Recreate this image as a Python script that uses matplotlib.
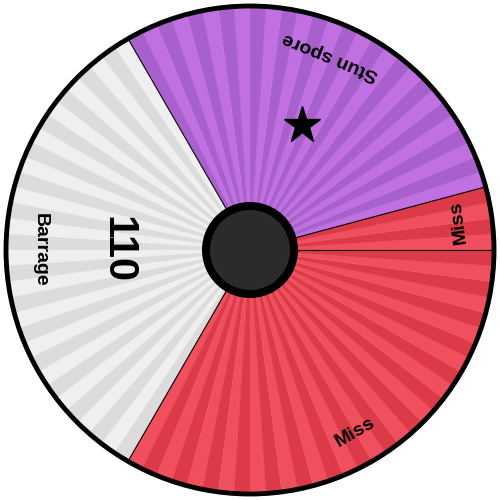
import numpy as np
import matplotlib
matplotlib.use("Agg")
import matplotlib.pyplot as plt
from matplotlib.patches import Wedge, Circle

# Wheel segments, counter-clockwise from 3 o'clock (96 units = full wheel)
labels = ["Miss", "Stun spore", "Barrage", "Miss"]
sizes = [4, 28, 32, 32]
light_colors = ["#f0505e", "#c070e0", "#efefef", "#f0505e"]
dark_colors = ["#dc3a48", "#a860cc", "#dcdcdc", "#dc3a48"]
powers = ["", "", "110", ""]
status = [False, True, False, False]

plt.rcParams["font.family"] = ["Liberation Sans", "DejaVu Sans"]

fig = plt.figure(figsize=(5, 5), dpi=100)
ax = fig.add_axes([0, 0, 1, 1])
ax.set_xlim(-250, 250)
ax.set_ylim(-250, 250)
ax.set_aspect("equal")
ax.axis("off")

R = 244
step = 360 / sum(sizes)
start = 0.0
k = 0
for lab, n, lc, dc, pw, st in zip(labels, sizes, light_colors, dark_colors, powers, status):
    # stripes
    for i in range(n):
        a0 = start + i * step
        col = lc if k % 2 == 0 else dc
        ax.add_patch(Wedge((0, 0), R, a0, a0 + step, facecolor=col, edgecolor=col, lw=0.3))
        k += 1
    mid = start + n * step / 2
    t = np.radians(mid)
    # label
    ax.text(210 * np.cos(t), 210 * np.sin(t), lab, rotation=mid + 90, rotation_mode="anchor",
            ha="center", va="center", fontsize=14, fontweight="bold")
    if pw:
        ax.text(133 * np.cos(t), 133 * np.sin(t), pw, rotation=mid + 90, rotation_mode="anchor",
                ha="center", va="center", fontsize=30, fontweight="bold")
    if st:
        ax.plot(135 * np.cos(t), 135 * np.sin(t), marker="*", color="black", ms=28, mec="black")
    start += n * step

# segment borders
start = 0.0
for n in sizes:
    t = np.radians(start)
    ax.plot([0, R * np.cos(t)], [0, R * np.sin(t)], color="black", lw=0.8)
    start += n * step

ax.add_patch(Circle((0, 0), R, facecolor="none", edgecolor="black", lw=3.5))
ax.add_patch(Circle((0, 0), 48, facecolor="black", edgecolor="none", zorder=5))
ax.add_patch(Circle((0, 0), 40, facecolor="#2b2b2b", edgecolor="none", zorder=6))

fig.savefig("out.png", dpi=100)
